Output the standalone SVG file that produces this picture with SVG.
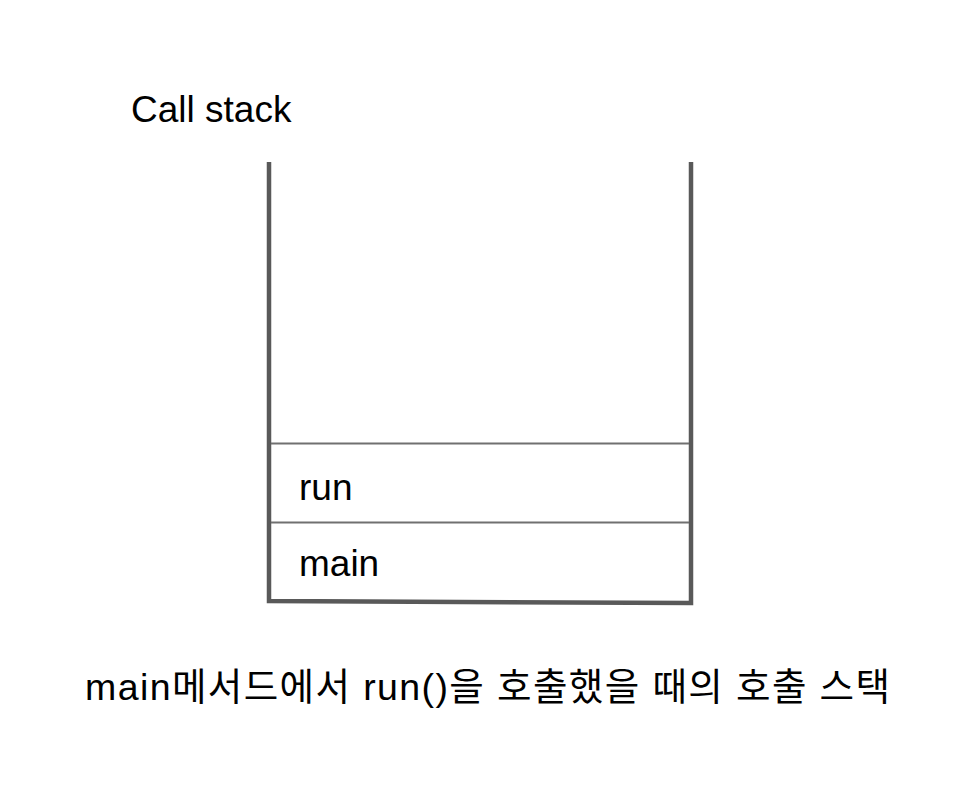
<svg xmlns="http://www.w3.org/2000/svg" width="959" height="791" viewBox="0 0 959 791">
<style>
.t{font-family:"Liberation Sans","Noto Sans CJK KR",Arial,sans-serif;font-size:37px;fill:#000}
.k{font-family:"Liberation Sans","Noto Sans CJK KR",sans-serif;font-size:37.5px;fill:#000}
.wall{fill:none;stroke:#595959;stroke-width:4.5;stroke-linejoin:miter}
.div{stroke:#707070;stroke-width:1.8}
</style>
<rect width="959" height="791" fill="#fff"/>
<text class="t" x="131" y="122">Call stack</text>
<g id="stack">
<path class="wall" d="M269,162 L269,601 L691,603 L691,162"/>
</g>
<g id="frames">
<line class="div" x1="271" y1="443.5" x2="689" y2="443.5"/>
<line class="div" x1="271" y1="522.5" x2="689" y2="522.5"/>
</g>
<g id="run"><text class="t" x="299" y="500">run</text></g>
<g id="main"><text class="t" x="299" y="576">main</text></g>
<text class="k" x="85" y="700" textLength="805" lengthAdjust="spacing">main메서드에서 run()을 호출했을 때의 호출 스택</text>
</svg>
